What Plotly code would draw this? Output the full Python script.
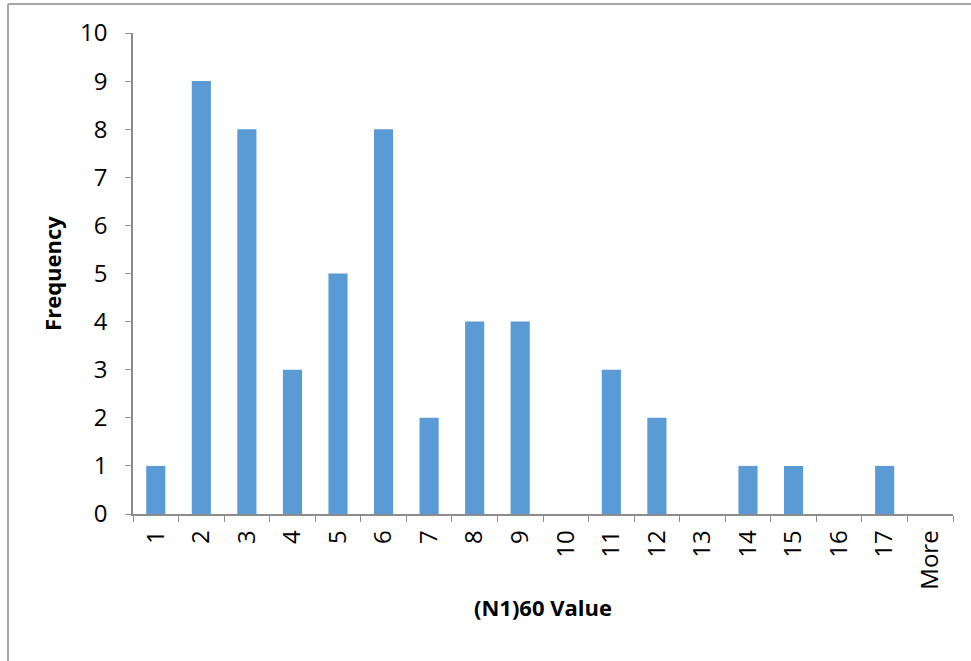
import plotly.graph_objects as go

bins = ["1", "2", "3", "4", "5", "6", "7", "8", "9", "10", "11", "12",
        "13", "14", "15", "16", "17", "More"]
frequency = [1, 9, 8, 3, 5, 8, 2, 4, 4, 0, 3, 2, 0, 1, 1, 0, 1, 0]

W, H = 971, 661
L, R, T, B = 133, 18, 33, 147
pw, ph = W - L - R, H - T - B

fig = go.Figure(go.Bar(x=bins, y=frequency, marker_color="#5B9BD5",
                       marker_line_width=0))

font = "Open Sans, Liberation Sans, Arial"
axis_col = "#8c8c8c"

fig.update_layout(
    width=W, height=H,
    margin=dict(l=L, r=R, t=T, b=B),
    plot_bgcolor="white", paper_bgcolor="white",
    bargap=0.58, showlegend=False,
    font=dict(family=font, size=24, color="black"),
    xaxis=dict(type="category", tickangle=-90, tickson="boundaries",
               ticks="outside", ticklen=6, tickcolor=axis_col,
               ticklabelstandoff=5,
               showline=True, linecolor=axis_col, linewidth=1.5,
               showgrid=False,
               title=dict(text="<b>(N1)60 Value</b>", standoff=12,
                          font=dict(size=22))),
    yaxis=dict(range=[0, 10], dtick=1, ticks="outside", ticklen=6,
               tickcolor=axis_col, showline=True, linecolor=axis_col,
               linewidth=1.5, showgrid=False, zeroline=False,
               ticklabelstandoff=13,
               title=dict(text="<b>Frequency</b>", standoff=12,
                          font=dict(size=22))),
)

# chart frame (top and left edges visible)
x0 = (8 - L) / pw
y1 = (H - B - 4) / ph
fig.add_shape(type="line", xref="paper", yref="paper", x0=x0, x1=1.1,
              y0=y1, y1=y1, line=dict(color="#a6a6a6", width=2))
fig.add_shape(type="line", xref="paper", yref="paper", x0=x0, x1=x0,
              y0=-0.4, y1=y1, line=dict(color="#a6a6a6", width=2))

fig.write_html("out.html", config={"displayModeBar": False},
               post_script="document.body.style.margin='0';")
